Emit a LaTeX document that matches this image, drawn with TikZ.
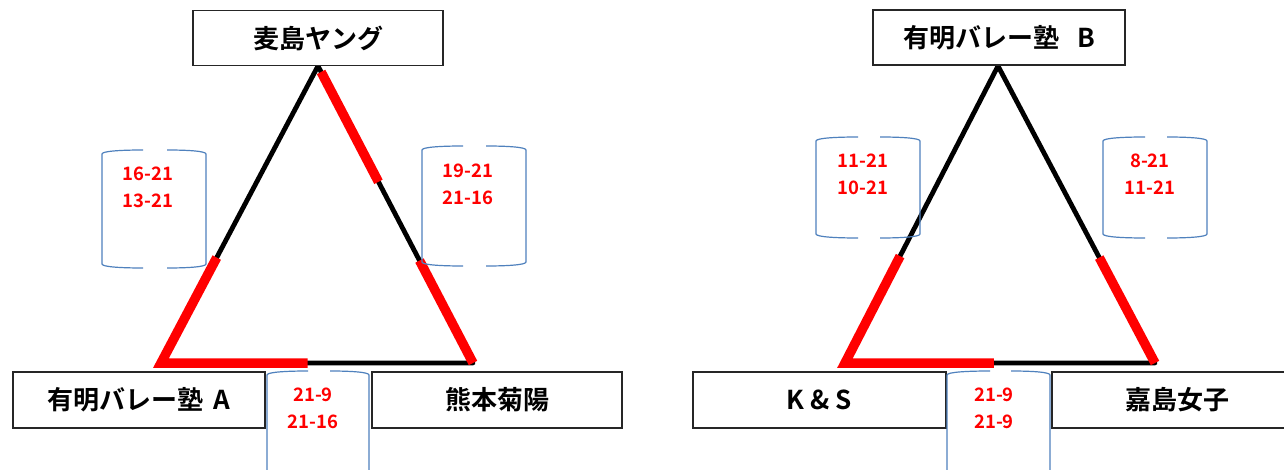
\documentclass[tikz,border=0pt]{standalone}
\usepackage{fontspec}
\newfontfamily\jp{Noto Sans CJK JP}[BoldFont={Noto Sans CJK JP Bold}]
\usetikzlibrary{calc}
\definecolor{brkblue}{HTML}{4F81BD}
\definecolor{boxline}{HTML}{262626}
\definecolor{scorered}{HTML}{FF0000}
\tikzset{
  team/.style={draw=boxline, line width=1.5pt, fill=white, minimum height=55pt, inner sep=0pt,
    font=\jp\bfseries\fontsize{26}{30}\selectfont, text=black},
  score/.style={align=center, inner sep=0pt, text=scorered, font=\jp\bfseries\fontsize{18.5}{27}\selectfont},
  edge/.style={draw=black, line width=4.8pt, line join=round},
  win/.style={draw=scorered, line width=9.5pt, line join=miter},
  brk/.style={draw=brkblue, line width=1.2pt}
}
\newcommand\brpair[6]{%
  \draw[brk] (#5,#2) .. controls ({(#5+#1)/2},#2) and ({#1},{#2+1}) .. ({#1},{#2+4}) -- ({#1},{#4-4}) .. controls ({#1},{#4-1}) and ({(#5+#1)/2},#4) .. (#5,#4);
  \draw[brk] (#6,#2) .. controls ({(#6+#3)/2},#2) and ({#3},{#2+1}) .. ({#3},{#2+4}) -- ({#3},{#4-4}) .. controls ({#3},{#4-1}) and ({(#6+#3)/2},#4) .. (#6,#4);
}
\begin{document}
\begin{tikzpicture}[x=1pt,y=-1pt]
\useasboundingbox (0,0) rectangle (1284,470);
\clip (0,0) rectangle (1284,470);
\fill[white] (0,0) rectangle (1284,470);

% ---------- left diagram ----------
\coordinate (la) at (318,66);
\coordinate (lbl) at (161,363);
\coordinate (lbr) at (473,363);
\draw[edge] (la) -- (lbl) -- (lbr) -- cycle;
\draw[win] ($(la)!0.02!(lbr)$) -- ($(la)!0.39!(lbr)$);
\draw[win] ($(la)!0.655!(lbr)$) -- (lbr);
\draw[win] ($(la)!0.645!(lbl)$) -- (lbl) -- ($(lbl)!0.47!(lbr)$);

\node[team, minimum width=250pt] (t1) at (318,38) {麦島ヤング};
\node[team, minimum width=252pt, minimum height=56pt] (t2) at (139,400) {有明バレー塾\hspace{10pt}A};
\node[team, minimum width=250pt, minimum height=56pt] (t3) at (497,400) {熊本菊陽};

\brpair{102}{150}{206}{268}{143}{167}
\node[score] (s1) at (148,187) {16-21\\13-21};
\brpair{422}{146}{526}{266}{463}{486}
\node[score] (s2) at (468,184) {19-21\\21-16};
\brpair{267}{371}{369}{490}{308}{330}
\node[score] (s3) at (313,408) {21-9\\21-16};

% ---------- right diagram ----------
\coordinate (ra) at (998,66);
\coordinate (rbl) at (845,363);
\coordinate (rbr) at (1155,363);
\draw[edge] (ra) -- (rbl) -- (rbr) -- cycle;
\draw[win] ($(ra)!0.64!(rbl)$) -- (rbl) -- ($(rbl)!0.48!(rbr)$);
\draw[win] ($(ra)!0.645!(rbr)$) -- (rbr);

\node[team, minimum width=252pt] (t4) at (999,37.5) {有明バレー塾\hspace{18pt}B};
\node[team, minimum width=253pt, minimum height=56pt] (t5) at (819.5,400) {K \& S};
\node[team, minimum width=250pt, minimum height=56pt] (t6) at (1177,400) {嘉島女子};

\brpair{816}{137}{920}{238}{858}{880}
\node[score] (s4) at (863,174.5) {11-21\\10-21};
\brpair{1103}{137}{1207}{238}{1145}{1167}
\node[score] (s5) at (1150,174) {8-21\\11-21};
\brpair{947}{371}{1050}{490}{990}{1011}
\node[score] (s6) at (994,408) {21-9\\21-9};
\end{tikzpicture}
\end{document}
